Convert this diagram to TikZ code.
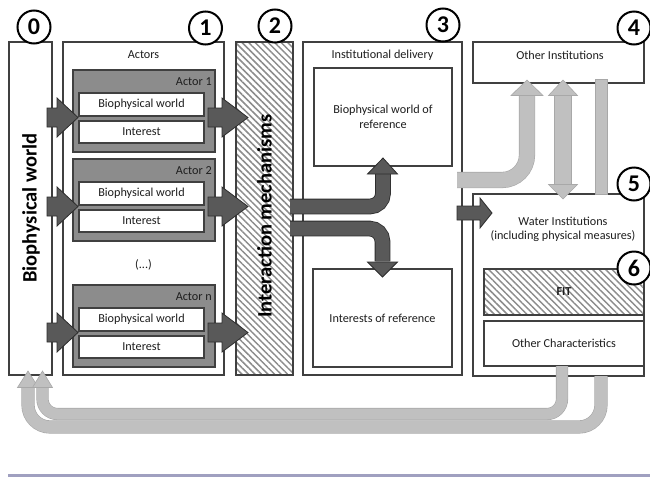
\documentclass[tikz,border=0pt]{standalone}
\usepackage{fontspec}
\setmainfont{Carlito}
\usetikzlibrary{patterns.meta,fit,calc}
\definecolor{edge}{RGB}{64,64,64}
\definecolor{actorfill}{RGB}{140,140,140}
\definecolor{darkarrow}{RGB}{89,89,89}
\definecolor{darkedge}{RGB}{45,45,45}
\definecolor{lightarrow}{RGB}{192,192,192}
\definecolor{lightedge}{RGB}{168,168,168}
\definecolor{hatchc}{RGB}{140,140,140}
\definecolor{rulec}{RGB}{160,160,192}
\definecolor{txt}{RGB}{30,30,30}
\tikzset{
  box/.style={draw=edge, line width=1.1pt, fill=white, inner sep=0pt},
  actorbox/.style={draw=edge, line width=1.1pt, fill=actorfill, inner sep=0pt},
  hatched/.style={draw=edge, line width=1.1pt, inner sep=0pt,
    pattern={Lines[angle=-45,distance=4.6pt,line width=1.5pt]}, pattern color=hatchc},
  lbl/.style={font=\fontsize{12.2}{14.5}\selectfont, text=txt, inner sep=0pt, align=center},
  biglbl/.style={font=\fontsize{20.5}{22}\selectfont\bfseries, text=black, inner sep=0pt, rotate=90},
  numcirc/.style={circle, draw=black, line width=2pt, fill=white, minimum size=33pt,
    inner sep=0pt, font=\fontsize{24}{24}\selectfont\bfseries},
  darrow/.style={fill=darkarrow, draw=darkedge, line width=0.8pt},
  dband/.style={draw=darkedge, double=darkarrow, line width=0.8pt, double distance=14pt, rounded corners=13pt},
  lhead/.style={fill=lightarrow, draw=lightedge, line width=0.6pt},
  lband/.style={draw=lightedge, double=lightarrow, line width=0.6pt, double distance=#1},
}
\begin{document}
\begin{tikzpicture}[x=1pt,y=-1pt]
\useasboundingbox (0,0) rectangle (650,477);
% main columns
\node[box, fit={(9,42) (52,375)}] (b0) {};
\node[box, fit={(63,42) (224,375)}] (b1) {};
\node[hatched, fit={(236,42) (293,375)}] (b2) {};
\node[box, fit={(303,42) (462,375)}] (b3) {};
\node[box, fit={(473,42) (644,83)}] (b4) {};
\node[box, fit={(473,194) (644,376)}] (b5) {};
% inner boxes
\node[box, fit={(314,68) (452,166)}] (bwr) {};
\node[box, fit={(313,269) (452,367)}] (ior) {};
\node[hatched, fit={(484,269) (644,315)}] (fitbox) {};
\node[box, fit={(484,321) (644,366)}] (oc) {};
% labels
\node[biglbl] (t0) at (31,208) {Biophysical world};
\node[biglbl] (t2) at (264.5,216) {Interaction mechanisms};
\node[lbl] (t1) at (143.5,55) {Actors};
\node[lbl] (t3) at (382.5,55) {Institutional delivery};
\node[lbl] (tbwr) at (bwr.center) {Biophysical world of\\reference};
\node[lbl] (tior) at (ior.center) {Interests of reference};
\node[lbl] (t4) at (560,55) {Other Institutions};
\node[lbl] (t5) at (563,229.5) {Water Institutions\\(including physical measures)};
\node[lbl, font=\fontsize{12.2}{14.5}\selectfont\bfseries] (tfit) at (fitbox.center) {FIT};
\node[lbl] (toc) at (oc.center) {Other Characteristics};
\node[lbl] (dots) at (143.5,265) {(...)};
% actors
\foreach \i/\y in {1/70, 2/159, n/285} {
  \node[actorbox, fit={(73,\y) (215,\y+82)}] (a\i) {};
  \node[lbl, anchor=east] (an\i) at (212,\y+12) {Actor \i};
  \node[box, fit={(79,\y+23) (204,\y+46)}] (bw\i) {};
  \node[lbl] at (bw\i.center) {Biophysical world};
  \node[box, fit={(79,\y+51) (204,\y+73)}] (in\i) {};
  \node[lbl] at (in\i.center) {Interest};
  \pgfmathsetmacro\t{\y+47.5}
  \draw[darrow] (47,\t-9.5) -- (57,\t-9.5) -- (57,\t-19.5) -- (78,\t) -- (57,\t+19.5) -- (57,\t+9.5) -- (47,\t+9.5) -- cycle;
  \draw[darrow] (208,\t-9.5) -- (222,\t-9.5) -- (222,\t-19.5) -- (248,\t) -- (222,\t+19.5) -- (222,\t+9.5) -- (208,\t+9.5) -- cycle;
}
% dark curved arrows from interaction mechanisms
\coordinate (u1) at (290,206.5);
\coordinate (u2) at (290,228.5);
\draw[dband] (u1) -| ($(bwr.south)+(0,7)$);
\draw[darrow] (367.5,174) -- (397.5,174) -- (bwr.south |- 0,158) -- cycle;
\draw[dband] (u2) -| ($(ior.north)+(0,-7)$);
\draw[darrow] (367.5,262) -- (397.5,262) -- (ior.north |- 0,277) -- cycle;
% dark arrow into water institutions
\draw[darrow] (457,206) -- (480,206) -- (480,198) -- (492,213) -- (480,228) -- (480,220) -- (457,220) -- cycle;
% light arrows
\draw[lband=15pt, rounded corners=25pt] (457,180) -- (527,180) -- (527,95.5);
\draw[lhead] (511,95.5) -- (543,95.5) -- (527,80) -- cycle;
\draw[lband=16pt] (563,95) -- (563,185);
\draw[lhead] (548.5,95.5) -- (577.5,95.5) -- (563,80) -- cycle;
\draw[lhead] (548.5,184.5) -- (577.5,184.5) -- (563,199) -- cycle;
\filldraw[lhead] (595,79) rectangle (607,194);
\draw[lband=12pt, rounded corners=22pt] (601,376) -- (601,427) -- (28,427) -- (28,387.5);
\draw[lhead] (17.5,387.5) -- (38.5,387.5) -- (28,371) -- cycle;
\draw[lband=11pt, rounded corners=15pt] (562,366) -- (562,414) -- (42.5,414) -- (42.5,387.5);
\draw[lhead] (32.5,387.5) -- (52.5,387.5) -- (42.5,371) -- cycle;
% number circles
\node[numcirc] (c0) at (34,27) {0};
\node[numcirc] (c1) at (205.5,28) {1};
\node[numcirc] (c2) at (275,26) {2};
\node[numcirc] (c3) at (443,25) {3};
\node[numcirc] (c4) at (634,28) {4};
\node[numcirc] (c5) at (634,184) {5};
\node[numcirc] (c6) at (634,268) {6};
% bottom rule
\draw[rulec, line width=3pt] (8,475.5) -- (650,475.5);
\end{tikzpicture}
\end{document}
